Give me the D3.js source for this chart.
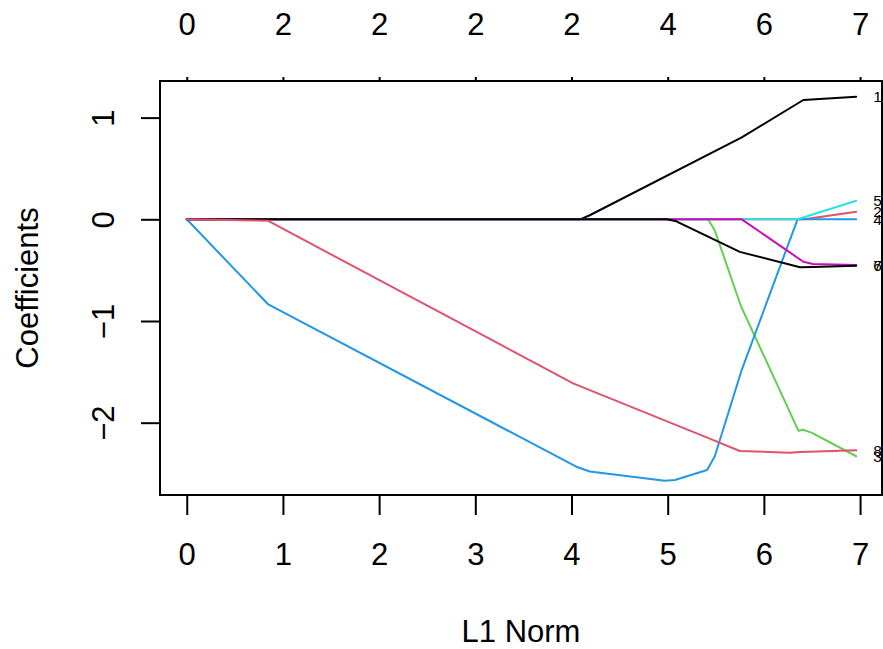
<!DOCTYPE html>
<html>
<head>
<meta charset="utf-8">
<script src="https://cdn.jsdelivr.net/npm/d3@7"></script>
<style>
  html, body { margin: 0; padding: 0; background: #fff; }
  svg { display: block; }
  text { font-family: "Liberation Sans", Arial, Helvetica, sans-serif; fill: #000; }
</style>
</head>
<body>
<svg id="chart" width="883" height="649"></svg>
<script>
// ---- data ----
const bottomTicks = [0, 1, 2, 3, 4, 5, 6, 7];
const topTickPos = [0, 1, 2, 3, 4, 5, 6, 7];
const topTickLabels = ["0", "2", "2", "2", "2", "4", "6", "7"];
const yTicks = [1, 0, -1, -2];

// coefficient paths: [L1 norm, coefficient]
const coef1 = [[0,0],[4.09,0],[4.19,0.04],[5.77,0.806],[6.41,1.173],[6.96,1.205]];
const coef2 = [[0,0],[6.42,0],[6.96,0.075]];
const coef3 = [[0,0],[5.42,0],[5.49,-0.11],[5.76,-0.85],[6.36,-2.08],[6.41,-2.07],[6.50,-2.10],[6.96,-2.33]];
const coef4 = [[0,0],[0.843,-0.833],[4.05,-2.433],[4.19,-2.48],[4.97,-2.57],[5.075,-2.563],[5.41,-2.465],[5.49,-2.33],[5.77,-1.48],[6.35,0],[6.96,0]];
const coef5 = [[0,0],[6.35,0],[6.96,0.183]];
const coef6 = [[0,0],[5.77,0],[6.41,-0.417],[6.51,-0.44],[6.96,-0.45]];
const coef7 = [[0,0],[4.99,0],[5.09,-0.02],[5.75,-0.32],[6.376,-0.472],[6.51,-0.47],[6.96,-0.456]];
const coef8 = [[0,0],[0.843,-0.014],[4.017,-1.613],[4.19,-1.68],[5.405,-2.144],[5.75,-2.278],[6.27,-2.295],[6.376,-2.288],[6.96,-2.272]];
const seriesNames = ["1","2","3","4","5","6","7","8"];
const seriesColors = ["#000000","#DF536B","#61D04F","#2297E6","#28E2E5","#CD0BBC","#000000","#DF536B"];

// ---- layout ----
const svg = d3.select("#chart");
const L = 160, R = 882, T = 81, B = 495;
const x = d3.scaleLinear().domain([-0.278, 7.228]).range([L, R]);
const y = d3.scaleLinear().domain([-2.711, 1.36]).range([B, T]);
const FS = 31;

const series = [coef1, coef2, coef3, coef4, coef5, coef6, coef7, coef8];

// lines (clip to plot region)
svg.append("defs").append("clipPath").attr("id", "clip")
  .append("rect").attr("x", L).attr("y", T).attr("width", R - L).attr("height", B - T);

const line = d3.line().x(d => x(d[0])).y(d => y(d[1]));
const g = svg.append("g").attr("clip-path", "url(#clip)");
series.forEach((s, i) => {
  g.append("path").attr("d", line(s)).attr("fill", "none")
    .attr("stroke", seriesColors[i]).attr("stroke-width", 2)
    .attr("stroke-linejoin", "round").attr("stroke-linecap", "round");
});

// box
svg.append("rect").attr("x", L).attr("y", T).attr("width", R - L).attr("height", B - T)
  .attr("fill", "none").attr("stroke", "#000").attr("stroke-width", 2);

// bottom axis
const bAxis = d3.axisBottom(x).tickValues(bottomTicks).tickSize(20).tickPadding(0).tickFormat(d3.format("d"));
const bg = svg.append("g").attr("transform", `translate(0,${B})`).call(bAxis);
bg.select(".domain").attr("stroke-width", 2).attr("d", `M${x(0)},0H${x(7)}`);
bg.selectAll(".tick line").attr("stroke-width", 2);
bg.selectAll(".tick text").attr("font-size", FS).attr("font-family", null).attr("dy", null).attr("y", 70);

// top axis
const tAxis = d3.axisTop(x).tickValues(topTickPos).tickSize(4).tickFormat((d, i) => topTickLabels[i]);
const tg = svg.append("g").attr("transform", `translate(0,${T})`).call(tAxis);
tg.select(".domain").attr("stroke-width", 2).attr("d", `M${x(0)},0H${x(7)}`);
tg.selectAll(".tick line").attr("stroke-width", 2);
tg.selectAll(".tick text").attr("font-size", FS).attr("font-family", null).attr("dy", null).attr("y", 35 - T);

// left axis
const lAxis = d3.axisLeft(y).tickValues(yTicks).tickSize(19).tickFormat(d => d < 0 ? "\u2212" + Math.abs(d) : String(d));
const lg = svg.append("g").attr("transform", `translate(${L},0)`).call(lAxis);
lg.select(".domain").attr("stroke-width", 2).attr("d", `M0,${y(-2)}V${y(1)}`);
lg.selectAll(".tick line").attr("stroke-width", 2);
lg.selectAll(".tick text").attr("font-size", FS).attr("font-family", null)
  .attr("x", null).attr("dy", null).attr("text-anchor", "middle")
  .attr("transform", `translate(${114 - L},0) rotate(-90)`);

// titles
svg.append("text").attr("x", (L + R) / 2).attr("y", 642).attr("text-anchor", "middle")
  .attr("font-size", FS).text("L1 Norm");
svg.append("text").attr("transform", `translate(38,${(T + B) / 2}) rotate(-90)`)
  .attr("text-anchor", "middle").attr("font-size", FS).text("Coefficients");

// end labels
series.forEach((s, i) => {
  const last = s[s.length - 1];
  svg.append("text").attr("x", x(last[0]) + 17).attr("y", y(last[1]))
    .attr("dy", "0.36em").attr("font-size", 15.5).text(seriesNames[i]);
});
</script>
</body>
</html>
